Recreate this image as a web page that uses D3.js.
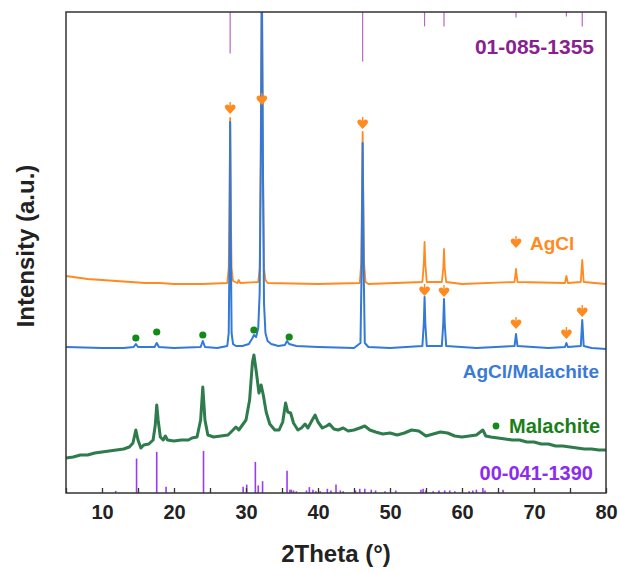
<!DOCTYPE html>
<html><head><meta charset="utf-8">
<script src="https://cdn.jsdelivr.net/npm/d3@7"></script>
<style>body{margin:0;background:#fff}svg{display:block;font-family:"Liberation Sans",Arial,sans-serif}</style>
</head><body><svg id="c" width="620" height="573"></svg>
<script>
// ---- data (intensity in arbitrary units, stacked patterns) ----
const xTicks = [10,20,30,40,50,60,70,80];
const agcl = [[5,217],[6,216],[8,214],[10,213],[12,212],[14,211],[16,210],[18,210],[20,209],[24,209],[27.4,210],[27.6,225],[27.7,280],[27.8,375],[27.9,280],[28.0,225],[28.2,212],[28.8,210],[29.0,213],[29.2,210],[31.7,211],[31.9,225],[32.05,330],[32.2,520],[32.35,330],[32.5,225],[32.7,213],[33.0,210],[40,209],[45.8,210],[46.0,230],[46.1,290],[46.2,361],[46.3,290],[46.4,230],[46.6,211],[47,209],[54.5,211],[54.7,230],[54.8,251],[54.9,230],[55.1,211],[57.2,211],[57.4,225],[57.5,244],[57.6,225],[57.8,211],[60,209],[67.3,211],[67.5,224],[67.7,211],[74.3,210],[74.5,217],[74.7,210],[76.5,211],[76.7,233],[76.9,211],[80,209]];
const agclMal = [[5,146],[10,145],[13,145],[14.4,146],[14.7,149],[15.0,146],[17.3,146],[17.6,150],[17.9,146],[20,145],[23.7,146],[24.0,152],[24.3,146],[26,145],[27.4,147],[27.6,160],[27.7,230],[27.8,371],[27.9,240],[28.0,160],[28.2,149],[28.6,147],[29.5,147],[30.4,149],[30.9,155],[31.1,158],[31.4,156],[31.7,165],[31.9,200],[32.05,330],[32.2,520],[32.35,330],[32.5,190],[32.7,160],[33.0,152],[33.5,149],[34.5,147],[35.4,148],[35.7,152],[36.0,149],[37,147],[40,146],[45,145],[45.9,150],[46.05,220],[46.2,350],[46.35,220],[46.5,150],[47,146],[50,145],[54.5,147],[54.7,170],[54.8,196],[54.9,170],[55.1,147],[57.2,147],[57.4,170],[57.5,194],[57.6,170],[57.8,147],[62,145],[67.3,147],[67.5,159],[67.7,147],[72,145],[74.3,146],[74.5,150],[74.7,146],[76.5,147],[76.7,173],[76.9,147],[78,145],[80,144]];
const malachite = [[5,35],[6,36],[7,38],[8,38],[9,40],[10,41],[11,42],[12,43],[13,44],[13.8,46],[14.3,50],[14.7,63],[15.0,53],[15.4,45],[15.8,48],[16.5,49],[17.1,53],[17.4,68],[17.6,88],[17.8,73],[18.1,56],[18.5,53],[18.8,57],[19.1,53],[20,52],[21,53],[22,53],[22.5,55],[23.2,56],[23.7,73],[24.0,106],[24.3,73],[24.7,58],[25.5,56],[26.5,57],[27.5,58],[28.2,63],[28.6,66],[29.0,63],[29.5,68],[30.0,73],[30.5,93],[30.9,131],[31.1,138],[31.4,123],[31.8,100],[32.1,108],[32.4,98],[32.8,81],[33.3,69],[34.0,63],[34.6,63],[35.1,71],[35.5,90],[35.8,81],[36.2,80],[36.6,70],[37.2,63],[37.7,65],[38.2,69],[38.6,65],[39.2,73],[39.6,78],[40.0,71],[40.6,65],[41.2,67],[41.6,69],[42.2,64],[42.8,63],[43.5,65],[44.2,62],[45.0,63],[45.8,65],[46.5,67],[47.2,63],[48.0,61],[49.0,59],[50.0,60],[51.0,58],[52.0,60],[53.0,63],[54.0,62],[55.0,57],[56.0,59],[57.0,61],[58.0,60],[59.0,57],[60.0,56],[61.0,57],[62.0,58],[62.9,63],[63.3,57],[64.0,56],[65.0,55],[66.0,54],[67.0,53],[68.0,53],[69.0,51],[70.0,51],[71.0,49],[72.0,49],[73.0,47],[74.0,47],[75.0,46],[76.0,45],[77.0,44],[78.0,44],[79.0,43],[80.0,43]];
// reference card 01-085-1355 (AgCl): 2theta, relative intensity
const refAgCl = [[27.8,46],[32.2,100],[46.2,55],[54.8,16],[57.5,16],[67.5,6],[74.5,5],[76.7,16]];
// reference card 00-041-1390 (malachite)
const refMal = [[11.9,5],[14.8,82],[17.6,98],[18.9,15],[24.1,100],[29.6,15],[30.1,20],[31.3,74],[31.7,18],[32.3,28],[35.7,53],[36.1,8],[36.3,8],[36.6,6],[37.0,4],[38.4,6],[38.8,14],[39.3,8],[39.7,4],[40.3,4],[41.3,10],[41.8,6],[42.5,20],[43.1,6],[43.5,4],[45.2,6],[45.8,10],[46.5,10],[47.4,8],[48.0,6],[49.3,4],[50.8,6],[54.3,8],[54.6,10],[55.0,6],[56.0,4],[56.8,6],[57.6,6],[58.3,6],[59.0,4],[61.0,4],[61.5,6],[62.0,8],[62.9,12],[63.2,6],[65.7,8]];
// peak markers
const agclMarks = [[27.8,384],[32.2,393],[46.2,369],[54.8,202],[57.5,201],[67.5,169],[74.5,159],[76.7,181]];
const malMarks = [[14.7,155],[17.6,161],[24.0,158],[31.1,163],[36.0,156]];

// ---- layout ----
const L=66,R=606,T=12,B=493;
const svg=d3.select("#c");
const x=d3.scaleLinear().domain([5,80]).range([L,R]);
const y=d3.scaleLinear().domain([0,481]).range([B,T]);
const refTopLen=d3.scaleLinear().domain([0,100]).range([0,90]);
const refBotLen=d3.scaleLinear().domain([0,100]).range([0,42]);

svg.append("defs").append("clipPath").attr("id","clip").append("rect").attr("x",L).attr("y",T).attr("width",R-L).attr("height",B-T);
const g=svg.append("g").attr("clip-path","url(#clip)");

// reference lines
g.selectAll(".rt").data(refAgCl).join("line").attr("x1",d=>x(d[0])).attr("x2",d=>x(d[0]))
 .attr("y1",T).attr("y2",d=>T+refTopLen(d[1])).attr("stroke","#b866c4").attr("stroke-width",1.2);
g.selectAll(".rb").data(refMal).join("line").attr("x1",d=>x(d[0])).attr("x2",d=>x(d[0]))
 .attr("y1",B).attr("y2",d=>B-refBotLen(d[1])).attr("stroke","#9a3cf0").attr("stroke-width",1.6);

const line=d3.line().x(d=>x(d[0])).y(d=>y(d[1]));
g.append("path").datum(malachite).attr("d",line).attr("fill","none").attr("stroke","#2e7b4c").attr("stroke-width",3).attr("stroke-linejoin","round");
g.append("path").datum(agcl).attr("d",line).attr("fill","none").attr("stroke","#ff8a1f").attr("stroke-width",1.8).attr("stroke-linejoin","round");
g.append("path").datum(agclMal).attr("d",line).attr("fill","none").attr("stroke","#3279d8").attr("stroke-width",2).attr("stroke-linejoin","round");

// heart marker
const heart="M0,5 L-4.6,0 Q-6.2,-2 -4.8,-3.8 Q-2.6,-5.6 -0.8,-3.2 L0,-2.2 L0.8,-3.2 Q2.6,-5.6 4.8,-3.8 Q6.2,-2 4.6,0 Z M-0.7,-2.5 L-0.7,-7 L0.7,-7 L0.7,-2.5 Z";
svg.selectAll(".hm").data(agclMarks).join("path").attr("d",heart).attr("fill","#ff8a1f")
 .attr("transform",d=>`translate(${x(d[0])},${y(d[1])})`);
svg.selectAll(".gm").data(malMarks).join("circle").attr("cx",d=>x(d[0])).attr("cy",d=>y(d[1])).attr("r",3.6).attr("fill","#148a18");

// frame
svg.append("rect").attr("x",L).attr("y",T).attr("width",R-L).attr("height",B-T).attr("fill","none").attr("stroke","#333").attr("stroke-width",1.5);

// x axis
const ax=svg.append("g").attr("transform",`translate(0,${B})`)
 .call(d3.axisBottom(x).tickValues(d3.range(5,81,5)).tickSize(-5).tickPadding(12).tickFormat(d=>xTicks.includes(d)?d:""));
ax.select(".domain").remove();
ax.selectAll("line").attr("stroke","#333").attr("stroke-width",1.3);
ax.selectAll("text").attr("font-size",20).attr("font-weight","bold").attr("fill","#222").attr("font-family","Liberation Sans, Arial, sans-serif");

svg.append("text").attr("x",(L+R)/2).attr("y",562).attr("text-anchor","middle").attr("font-size",24).attr("font-weight","bold").attr("fill","#222").text("2Theta (°)");
svg.append("text").attr("transform",`translate(34,246) rotate(-90)`).attr("text-anchor","middle").attr("font-size",24).attr("font-weight","bold").attr("fill","#222").text("Intensity (a.u.)");

// labels
svg.append("text").attr("x",594).attr("y",54).attr("text-anchor","end").attr("font-size",21).attr("font-weight","bold").attr("fill","#8a1f8f").text("01-085-1355");
svg.append("text").attr("x",593).attr("y",480).attr("text-anchor","end").attr("font-size",20).attr("font-weight","bold").attr("fill","#8b2cf0").text("00-041-1390");
svg.append("path").attr("d",heart).attr("fill","#ff8a1f").attr("transform",`translate(516,${y(250)})`);
svg.append("text").attr("x",530).attr("y",y(250)+7).attr("font-size",19).attr("font-weight","bold").attr("fill","#ff8a1f").text("AgCl");
svg.append("text").attr("x",599).attr("y",378).attr("text-anchor","end").attr("font-size",19).attr("font-weight","bold").attr("fill","#3a7ad8").text("AgCl/Malachite");
svg.append("circle").attr("cx",496).attr("cy",426).attr("r",3.4).attr("fill","#148a18");
svg.append("text").attr("x",509).attr("y",433).attr("font-size",20).attr("font-weight","bold").attr("fill","#1a7f1a").text("Malachite");
</script></body></html>
